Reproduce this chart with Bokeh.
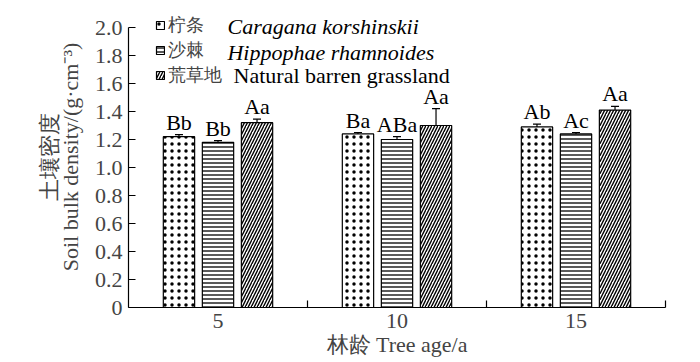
from bokeh.plotting import figure
from bokeh.models import (ColumnDataSource, FactorRange, Range1d, LinearAxis, CategoricalAxis,
                          FixedTicker, Whisker, TeeHead, LabelSet, Legend, LegendItem, Label,
                          CustomJSTickFormatter)
from bokeh.transform import dodge
from bokeh.core.properties import value
from bokeh.embed import file_html
from bokeh.resources import INLINE

# ---------------- data ----------------
ages = ["5", "10", "15"]
caragana = [1.22, 1.24, 1.29]
caragana_err = [0.015, 0.010, 0.020]
caragana_sig = ["Bb", "Ba", "Ab"]
hippophae = [1.18, 1.20, 1.24]
hippophae_err = [0.012, 0.020, 0.010]
hippophae_sig = ["Bb", "ABa", "Ac"]
grass = [1.32, 1.30, 1.41]
grass_err = [0.025, 0.120, 0.026]
grass_sig = ["Aa", "Aa", "Aa"]
y_ticks = [0, 0.2, 0.4, 0.6, 0.8, 1.0, 1.2, 1.4, 1.6, 1.8, 2.0]
series_cn = ["柠条", "沙棘", "荒草地"]
series_latin = ["Caragana korshinskii", "Hippophae rhamnoides", "Natural barren grassland"]

SERIF = "Liberation Serif"
FS = "22px"

data = dict(age=ages,
            caragana=caragana, caragana_up=[v + e for v, e in zip(caragana, caragana_err)], caragana_sig=caragana_sig,
            hippophae=hippophae, hippophae_up=[v + e for v, e in zip(hippophae, hippophae_err)], hippophae_sig=hippophae_sig,
            grass=grass, grass_up=[v + e for v, e in zip(grass, grass_err)], grass_sig=grass_sig)
src = ColumnDataSource(data)

# the frame reaches a little above 2.0 so the legend sits inside it; the axis line stops at 2.0
p = figure(x_range=FactorRange(*ages), y_range=Range1d(0, 2.15),
           width=700, height=362, output_backend="svg", toolbar_location=None,
           x_axis_location=None, y_axis_location=None,
           min_border_left=128, min_border_right=35, min_border_top=6, min_border_bottom=55)
p.outline_line_color = None
p.grid.visible = False
p.background_fill_color = "white"

# y axis: numbers + two-line label (Chinese line outside, English line inside)
yax = LinearAxis(ticker=FixedTicker(ticks=y_ticks), bounds=(0, 2.0),
                 formatter=CustomJSTickFormatter(code="return tick == 0 ? '0' : tick.toFixed(1)"),
                 major_tick_in=7, major_tick_out=0, minor_tick_in=0, minor_tick_out=0,
                 major_label_standoff=6, major_label_text_font=SERIF, major_label_text_font_size=FS,
                 axis_label="土壤密度\nSoil bulk density/(g·cm⁻³)", axis_label_standoff=9,
                 axis_label_text_font=SERIF, axis_label_text_font_size=FS,
                 axis_label_text_font_style="normal", axis_label_text_line_height=0.85,
                 axis_line_width=1.2, major_tick_line_width=1.2)
p.add_layout(yax, "left")

# x axis: tick marks at category boundaries (synthetic coordinates of the factor range)
xtick = LinearAxis(ticker=FixedTicker(ticks=list(range(1, len(ages) + 1))),
                   formatter=CustomJSTickFormatter(code="return ''"),
                   major_label_text_font_size="0px", major_label_standoff=0,
                   major_tick_in=7, major_tick_out=0, minor_tick_in=0, minor_tick_out=0,
                   axis_line_width=1.2, major_tick_line_width=1.2)
p.add_layout(xtick, "below")
xcat = CategoricalAxis(axis_line_color=None, major_tick_line_color=None,
                       major_tick_in=0, major_tick_out=0,
                       major_label_standoff=6, major_label_text_font=SERIF, major_label_text_font_size=FS,
                       axis_label="林龄 Tree age/a", axis_label_standoff=1,
                       axis_label_text_font=SERIF, axis_label_text_font_size=FS,
                       axis_label_text_font_style="normal")
p.add_layout(xcat, "below")

# bars, error bars, significance letters
specs = [("caragana", -0.218, "dot", 7, 1.8),
         ("hippophae", 0.0, "horizontal_line", 4, 1.3),
         ("grass", 0.218, "right_diagonal_line", 6, 1.4)]
renderers = []
for key, off, pat, sc, wt in specs:
    xs = dodge("age", off, range=p.x_range)
    r = p.vbar(x=xs, top=key, width=0.175, source=src,
               fill_color="white", line_color="black", line_width=1.2,
               hatch_pattern=pat, hatch_color="black", hatch_scale=sc, hatch_weight=wt)
    renderers.append(r)
    p.add_layout(Whisker(source=src, base=xs, upper=key + "_up", lower=key,
                         upper_head=TeeHead(size=8, line_width=1.2), lower_head=None,
                         line_width=1.2, line_color="black"))
    p.add_layout(LabelSet(x=xs, y=key + "_up", text=key + "_sig", source=src,
                          text_align="center", text_baseline="alphabetic", y_offset=5,
                          text_font=value(SERIF), text_font_size=FS, text_color="black"))

legend = Legend(items=[LegendItem(label=value(n), renderers=[r]) for n, r in zip(series_cn, renderers)],
                location=(27, 220), glyph_width=10, glyph_height=10, label_standoff=3,
                spacing=0, padding=0, margin=0, border_line_color=None, background_fill_alpha=0,
                label_text_font=SERIF, label_text_font_size="18px", label_height=25)
p.add_layout(legend)

latin_pos = [(0.553, 2.007, "italic"), (0.553, 1.821, "italic"), (0.587, 1.657, "normal")]
for txt, (lx, ly, st) in zip(series_latin, latin_pos):
    p.add_layout(Label(x=lx, y=ly, text=txt, text_font=SERIF,
                       text_font_size=FS, text_font_style=st, text_baseline="middle",
                       text_color="black"))

open("out.html", "w").write(file_html(p, INLINE))
